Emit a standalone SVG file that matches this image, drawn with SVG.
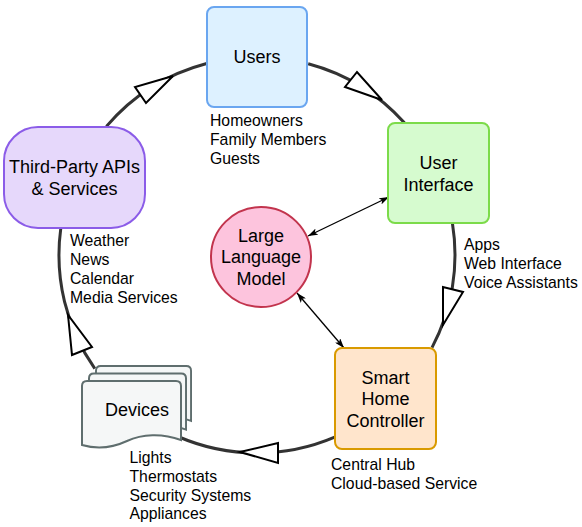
<svg xmlns="http://www.w3.org/2000/svg" width="582" height="527" viewBox="0 0 582 527">
<defs>
<style>
.lbl{font-family:"Liberation Sans",Arial,Helvetica,sans-serif;font-size:18px;fill:#000;text-anchor:middle}
.ann{font-family:"Liberation Sans",Arial,Helvetica,sans-serif;font-size:15.75px;fill:#000}
.ring{fill:none;stroke:#333;stroke-width:3}
.head{fill:#fff;stroke:#000;stroke-width:2;stroke-linejoin:miter}
.link{stroke:#000;stroke-width:1.3;fill:none;marker-start:url(#tip);marker-end:url(#tip)}
.page{fill:#f5f7f7;stroke:#5f6e6e;stroke-width:2}
</style>
<marker id="tip" viewBox="0 0 10 7" refX="10" refY="3.5" markerWidth="10" markerHeight="7" markerUnits="userSpaceOnUse" orient="auto-start-reverse">
<path d="M0,0 L10,3.5 L0,7 L2.5,3.5 z" fill="#000"/>
</marker>
<path id="pg" d="M5,0 H94 Q99,0 99,5 V59 C80,52 60,53 45,60 C30,67 14,68 0,64 V5 Q0,0 5,0 Z"/>
</defs>
<rect width="582" height="527" fill="#fff"/>
<g id="connectors">
<path class="ring" d="M106.4,126.4 A198,198 0 0 1 206.7,63.5"/>
<path class="ring" d="M308.2,63.7 A198,198 0 0 1 404.4,122.8"/>
<path class="ring" d="M452.4,223 A198,198 0 0 1 432,347.6"/>
<path class="ring" d="M334.7,437.1 A198,198 0 0 1 179,437"/>
<path class="ring" d="M94.8,368.6 A198,198 0 0 1 60.8,228.1"/>
<polygon class="head" points="173,76 135,87 146,103"/>
<polygon class="head" points="382,100 345,87 357,72"/>
<polygon class="head" points="443,325 443,287 463,292"/>
<polygon class="head" points="240,452 278,443 278,463"/>
<polygon class="head" points="68,315 72,355 92,347"/>
<line class="link" x1="308" y1="236" x2="389" y2="197"/>
<line class="link" x1="297" y1="293" x2="344" y2="348"/>
</g>
<g id="users">
<rect x="207" y="7" width="100" height="100" rx="7" fill="#ddf1ff" stroke="#6aa6f0" stroke-width="2"/>
<text class="lbl" x="257" y="63">Users</text>
<text class="ann" x="210"><tspan x="210" y="126">Homeowners</tspan><tspan x="210" y="144.9">Family Members</tspan><tspan x="210" y="163.8">Guests</tspan></text>
</g>
<g id="ui">
<rect x="388" y="123" width="101" height="100" rx="7" fill="#d6fbcf" stroke="#7cdb4a" stroke-width="2"/>
<text class="lbl"><tspan x="438.5" y="169">User</tspan><tspan x="438.5" y="190.6">Interface</tspan></text>
<text class="ann"><tspan x="464" y="250">Apps</tspan><tspan x="464" y="268.9">Web Interface</tspan><tspan x="464" y="287.8">Voice Assistants</tspan></text>
</g>
<g id="controller">
<rect x="335" y="348" width="101" height="101" rx="7" fill="#ffe5cc" stroke="#d99a00" stroke-width="2"/>
<text class="lbl"><tspan x="385.5" y="383.5">Smart</tspan><tspan x="385.5" y="405.1">Home</tspan><tspan x="385.5" y="426.7">Controller</tspan></text>
<text class="ann"><tspan x="331" y="470">Central Hub</tspan><tspan x="331" y="488.9">Cloud-based Service</tspan></text>
</g>
<g id="llm">
<circle cx="261" cy="257" r="50" fill="#fdc4dd" stroke="#c2344d" stroke-width="2"/>
<text class="lbl"><tspan x="261" y="242">Large</tspan><tspan x="261" y="263.4">Language</tspan><tspan x="261" y="284.8">Model</tspan></text>
</g>
<g id="thirdparty">
<rect x="4" y="127" width="141" height="101" rx="34" ry="34" fill="#e6d8fb" stroke="#8b5ce8" stroke-width="2"/>
<text class="lbl"><tspan x="74.5" y="173">Third-Party APIs</tspan><tspan x="74.5" y="194.6">&amp; Services</tspan></text>
<text class="ann"><tspan x="70" y="246">Weather</tspan><tspan x="70" y="265">News</tspan><tspan x="70" y="284">Calendar</tspan><tspan x="70" y="303">Media Services</tspan></text>
</g>
<g id="devices">
<use href="#pg" class="page" transform="translate(96,366) scale(0.96,0.93)"/>
<use href="#pg" class="page" transform="translate(89,373.5) scale(0.98,0.95)"/>
<use href="#pg" class="page" transform="translate(82,381)"/>
<text class="lbl" x="137" y="415.7">Devices</text>
<text class="ann"><tspan x="129.5" y="463">Lights</tspan><tspan x="129.5" y="481.6">Thermostats</tspan><tspan x="129.5" y="500.5">Security Systems</tspan><tspan x="129.5" y="519.4">Appliances</tspan></text>
</g>
</svg>
